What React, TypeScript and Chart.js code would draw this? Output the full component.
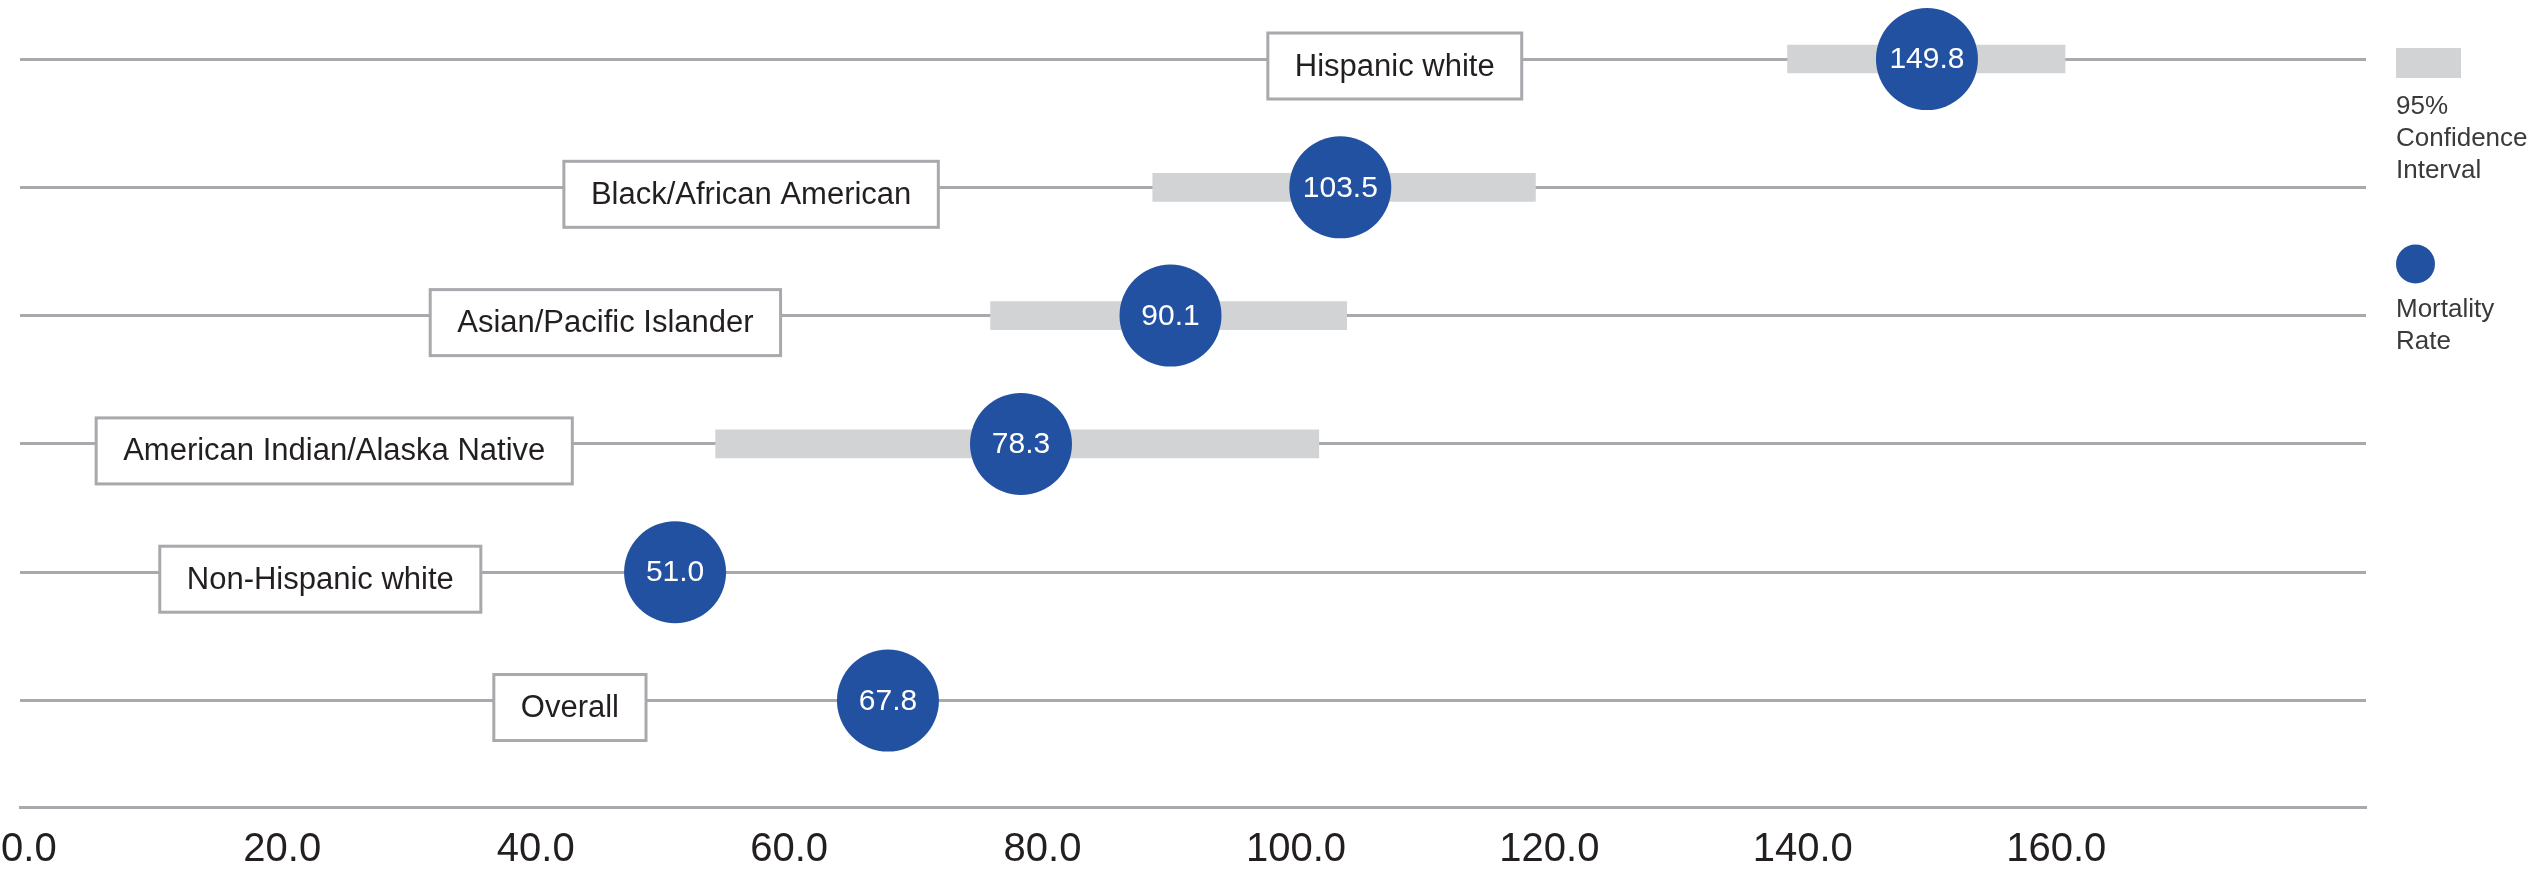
import React, { useEffect, useRef } from "react";
import { Chart, registerables } from "chart.js";

Chart.register(...registerables);

const FONT = '"Liberation Sans", Arial, sans-serif';

// Data
const groups = [
  "Hispanic white",
  "Black/African American",
  "Asian/Pacific Islander",
  "American Indian/Alaska Native",
  "Non-Hispanic white",
  "Overall",
];
const rates = [149.8, 103.5, 90.1, 78.3, 51.0, 67.8];
const ciLow: (number | null)[] = [138.8, 88.7, 75.9, 54.2, null, null];
const ciHigh: (number | null)[] = [160.7, 118.9, 104.0, 101.8, null, null];
// where each group's name box is centred, in axis units
const labelAnchors = [107.8, 57.0, 45.5, 24.1, 23.0, 42.7];
const xTicks = [0, 20, 40, 60, 80, 100, 120, 140, 160];
const legendCI = ["95%", "Confidence", "Interval"];
const legendRate = ["Mortality", "Rate"];

const rowIndex = groups.map((_, i) => groups.length - 1 - i);

const BLUE = "#2351a1";
const GREY_BAR = "#d1d3d4";
const LINE = "#a7a9ac";
const TEXT = "#231f20";

const annotPlugin = {
  id: "annot",
  beforeDatasetsDraw(chart: any) {
    const { ctx, scales } = chart;
    const x = scales.x;
    const y = scales.y;
    ctx.save();
    ctx.font = `31px ${FONT}`;
    groups.forEach((g, i) => {
      const cx = x.getPixelForValue(labelAnchors[i]);
      const cy = y.getPixelForValue(rowIndex[i]) + 7;
      const w = ctx.measureText(g).width + 54;
      const h = 66;
      ctx.fillStyle = "#ffffff";
      ctx.fillRect(cx - w / 2, cy - h / 2, w, h);
      ctx.strokeStyle = LINE;
      ctx.lineWidth = 3;
      ctx.strokeRect(cx - w / 2, cy - h / 2, w, h);
      ctx.fillStyle = TEXT;
      ctx.textAlign = "center";
      ctx.textBaseline = "middle";
      ctx.fillText(g, cx, cy + 1);
    });
    ctx.restore();
  },
  afterDatasetsDraw(chart: any) {
    const { ctx } = chart;
    const meta = chart.getDatasetMeta(1);
    ctx.save();
    ctx.font = `30px ${FONT}`;
    ctx.fillStyle = "#ffffff";
    ctx.textAlign = "center";
    ctx.textBaseline = "middle";
    meta.data.forEach((pt: any, i: number) => {
      ctx.fillText(rates[i].toFixed(1), pt.x, pt.y + 1);
    });
    ctx.restore();
  },
  afterDraw(chart: any) {
    const { ctx, chartArea } = chart;
    const lx = chartArea.right + 30;
    ctx.save();
    ctx.fillStyle = GREY_BAR;
    ctx.fillRect(lx, 48, 65, 30);
    ctx.font = `26px ${FONT}`;
    ctx.fillStyle = "#3a3a3a";
    ctx.textAlign = "left";
    ctx.textBaseline = "alphabetic";
    legendCI.forEach((t, i) => ctx.fillText(t, lx, 114 + i * 32));
    ctx.fillStyle = BLUE;
    ctx.beginPath();
    ctx.arc(lx + 19.5, 264, 19.5, 0, Math.PI * 2);
    ctx.fill();
    ctx.fillStyle = "#3a3a3a";
    legendRate.forEach((t, i) => ctx.fillText(t, lx, 317 + i * 32));
    ctx.restore();
  },
};

export default function App() {
  const ref = useRef<HTMLCanvasElement>(null);
  useEffect(() => {
    if (!ref.current) return;
    const barData: any[] = [];
    groups.forEach((_, i) => {
      if (ciLow[i] != null && ciHigh[i] != null) {
        barData.push({ x: [ciLow[i], ciHigh[i]], y: rowIndex[i] });
      }
    });
    const pointData = groups.map((_, i) => ({ x: rates[i], y: rowIndex[i] }));
    const chart = new Chart(ref.current, {
      type: "bar",
      data: {
        datasets: [
          {
            type: "bar",
            label: "95% Confidence Interval",
            data: barData,
            backgroundColor: GREY_BAR,
            borderWidth: 0,
            barThickness: 28,
            indexAxis: "y",
            order: 2,
          } as any,
          {
            type: "scatter",
            label: "Mortality Rate",
            data: pointData,
            backgroundColor: BLUE,
            borderWidth: 0,
            pointRadius: 51,
            pointHoverRadius: 51,
            clip: false,
            order: 1,
          } as any,
        ],
      },
      options: {
        indexAxis: "y",
        responsive: false,
        animation: false,
        devicePixelRatio: 1,
        layout: { autoPadding: false, padding: { left: 20, right: 163, top: 0, bottom: 0 } },
        plugins: { legend: { display: false }, tooltip: { enabled: false } },
        scales: {
          x: {
            type: "linear",
            position: "bottom",
            offset: false,
            min: -0.7,
            max: 184.45,
            afterBuildTicks: (s: any) => {
              s.ticks = xTicks.map((v) => ({ value: v }));
            },
            afterFit: (s: any) => {
              s.height = 65;
              s.paddingLeft = 0;
              s.paddingRight = 0;
            },
            grid: { display: false, offset: false, drawTicks: false, tickLength: 0 },
            border: { display: true, color: LINE, width: 3 },
            ticks: {
              padding: 21,
              color: TEXT,
              font: { family: FONT, size: 40, lineHeight: 1.1 },
              maxRotation: 0,
              autoSkip: false,
              callback: (v: any) => Number(v).toFixed(1),
            },
          },
          y: {
            type: "linear",
            offset: false,
            min: -0.83,
            max: 5.46,
            afterBuildTicks: (s: any) => {
              s.ticks = rowIndex.map((v) => ({ value: v }));
            },
            afterFit: (s: any) => {
              s.width = 0;
              s.paddingTop = 0;
              s.paddingBottom = 0;
            },
            grid: { color: LINE, lineWidth: 3, offset: false, drawTicks: false, tickLength: 0 },
            border: { display: false },
            ticks: { display: false },
          },
        } as any,
      },
      plugins: [annotPlugin],
    });
    return () => chart.destroy();
  }, []);
  return (
    <div style={{ position: "fixed", left: 0, top: 0, width: 2529, height: 872, background: "#fff" }}>
      <canvas ref={ref} width={2529} height={872} style={{ width: 2529, height: 872, display: "block" }} />
    </div>
  );
}
